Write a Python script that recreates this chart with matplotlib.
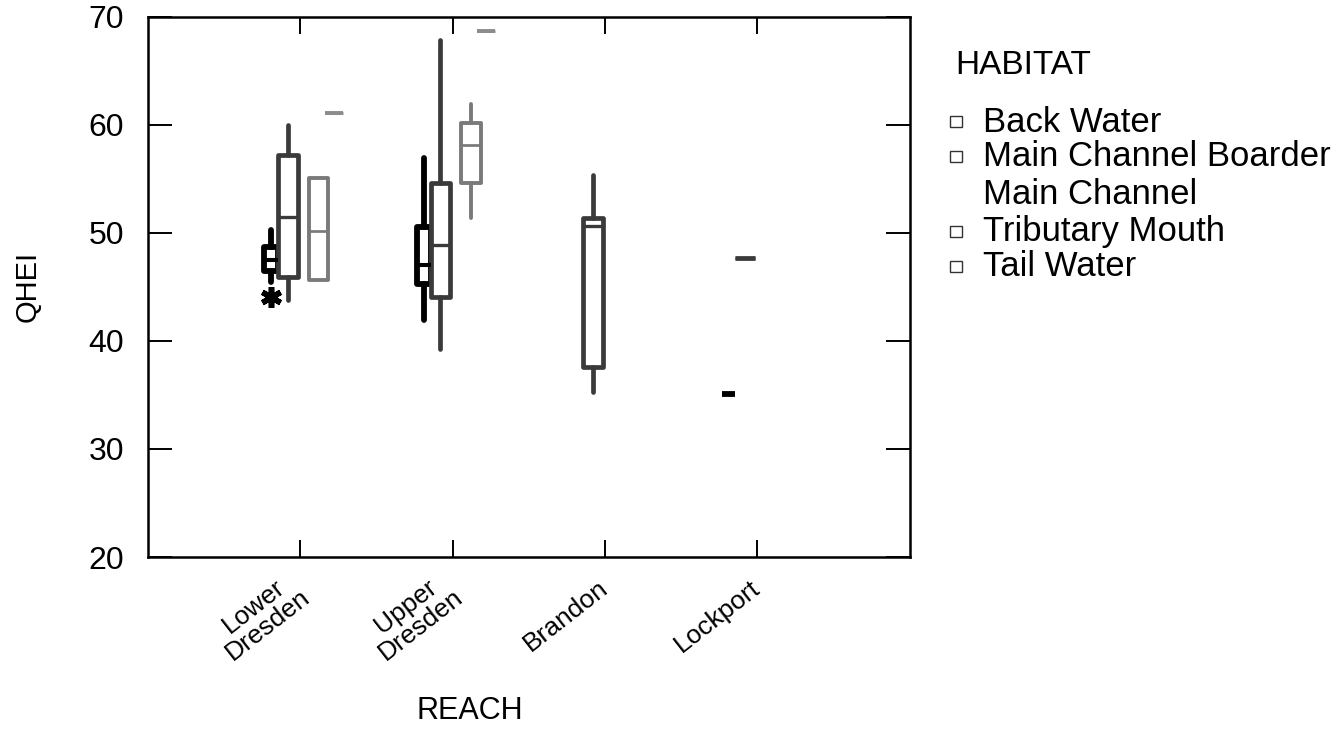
"""
QHEI by reach, grouped by habitat (box plots).
"""
import matplotlib.pyplot as plt
from matplotlib.patches import Rectangle

plt.rcParams['font.family'] = ['Liberation Sans', 'DejaVu Sans']

# categories
reaches = ["Lower\nDresden", "Upper\nDresden", "Brandon", "Lockport"]
habitats = ["Back Water", "Main Channel Boarder", "Main Channel",
            "Tributary Mouth", "Tail Water"]

# (whisker low, q1, median, q3, whisker high) per reach, None = no data
back_water = [(45.5, 46.5, 47.5, 48.7, 50.3),
              (41.9, 45.3, 47.0, 50.5, 56.9),
              None,
              (35.1, 35.1, 35.1, 35.1, 35.1)]
main_channel_boarder = [(43.8, 45.9, 51.5, 57.2, 60.0),
                        (39.3, 44.1, 48.9, 54.6, 67.9),
                        (35.3, 37.6, 50.6, 51.4, 55.4),
                        (47.7, 47.7, 47.7, 47.7, 47.7)]
main_channel = [None, None, None, None]
tributary_mouth = [(45.6, 45.6, 50.2, 55.1, 55.1),
                   (51.4, 54.6, 58.1, 60.2, 61.9),
                   None,
                   None]
tail_water = [(61.1, 61.1, 61.1, 61.1, 61.1),
              (68.7, 68.7, 68.7, 68.7, 68.7),
              None,
              None]
# outliers (asterisks)
back_water_out = [[44.1], [], [], []]

groups = [back_water, main_channel_boarder, main_channel, tributary_mouth, tail_water]
outliers = [back_water_out, [[]] * 4, [[]] * 4, [[]] * 4, [[]] * 4]

# style per habitat
offsets = [-0.19, -0.08, 0.02, 0.12, 0.22]
widths = [0.09, 0.13, 0.13, 0.13, 0.12]
colors = ["#000000", "#3a3a3a", "#ffffff", "#7a7a7a", "#8c8c8c"]
lws = [4.2, 3.4, 3.0, 2.8, 2.8]

fig = plt.figure(figsize=(13.44, 7.31), dpi=100)
ax = fig.add_axes([0.110, 0.238, 0.567, 0.739])

for g, (data, outs) in enumerate(zip(groups, outliers)):
    stats, pos = [], []
    for i, five in enumerate(data):
        if five is None:
            continue
        lo, q1, med, q3, hi = five
        stats.append(dict(whislo=lo, q1=q1, med=med, q3=q3, whishi=hi,
                          fliers=outs[i]))
        pos.append(i + 1 + offsets[g])
    if not stats:
        continue
    c, lw = colors[g], lws[g]
    ax.bxp(stats, positions=pos, widths=widths[g], showcaps=False,
           patch_artist=True,
           boxprops=dict(facecolor="white", edgecolor=c, linewidth=lw,
                         joinstyle="round"),
           medianprops=dict(color=c, linewidth=lw * 0.7),
           whiskerprops=dict(color=c, linewidth=lw, solid_capstyle="round"),
           flierprops=dict(marker=(6, 2, 0), markersize=15, markeredgewidth=4,
                           markerfacecolor="black", markeredgecolor="black"))

ax.set_xlim(0, 5)
ax.set_ylim(20, 70)
ax.set_xticks(range(1, len(reaches) + 1))
ax.set_xticklabels(reaches, rotation=38, ha="right", va="center",
                   rotation_mode="anchor", multialignment="center",
                   fontsize=19, linespacing=0.95)
ax.set_yticks(range(20, 71, 10))
ax.tick_params(axis="y", labelsize=23, direction="in", length=17, width=1.4,
               right=True, pad=17)
ax.tick_params(axis="x", direction="in", length=12, width=1.4, top=True, pad=20)
for s in ax.spines.values():
    s.set_linewidth(1.8)

ax.set_ylabel("QHEI", fontsize=21)
ax.yaxis.set_label_coords(-0.139, 0.5)
ax.set_xlabel("REACH", fontsize=22)
ax.xaxis.set_label_coords(0.423, -0.258)

# legend, drawn by hand in figure pixels
fig.text(955 / 1344, 1 - 65 / 731, "HABITAT", fontsize=24, va="center")
ys = [122, 157, 195, 232, 267]
for name, c, y in zip(habitats, colors, ys):
    fig.text(983 / 1344, 1 - y / 731, name, fontsize=25, va="center")
    if name == "Main Channel":
        continue
    fig.patches.append(Rectangle((950 / 1344, 1 - (y + 5) / 731), 12 / 1344, 11 / 731,
                                 transform=fig.transFigure, facecolor="white",
                                 edgecolor="#333333", linewidth=1.0))

fig.savefig("out.png", dpi=100)
